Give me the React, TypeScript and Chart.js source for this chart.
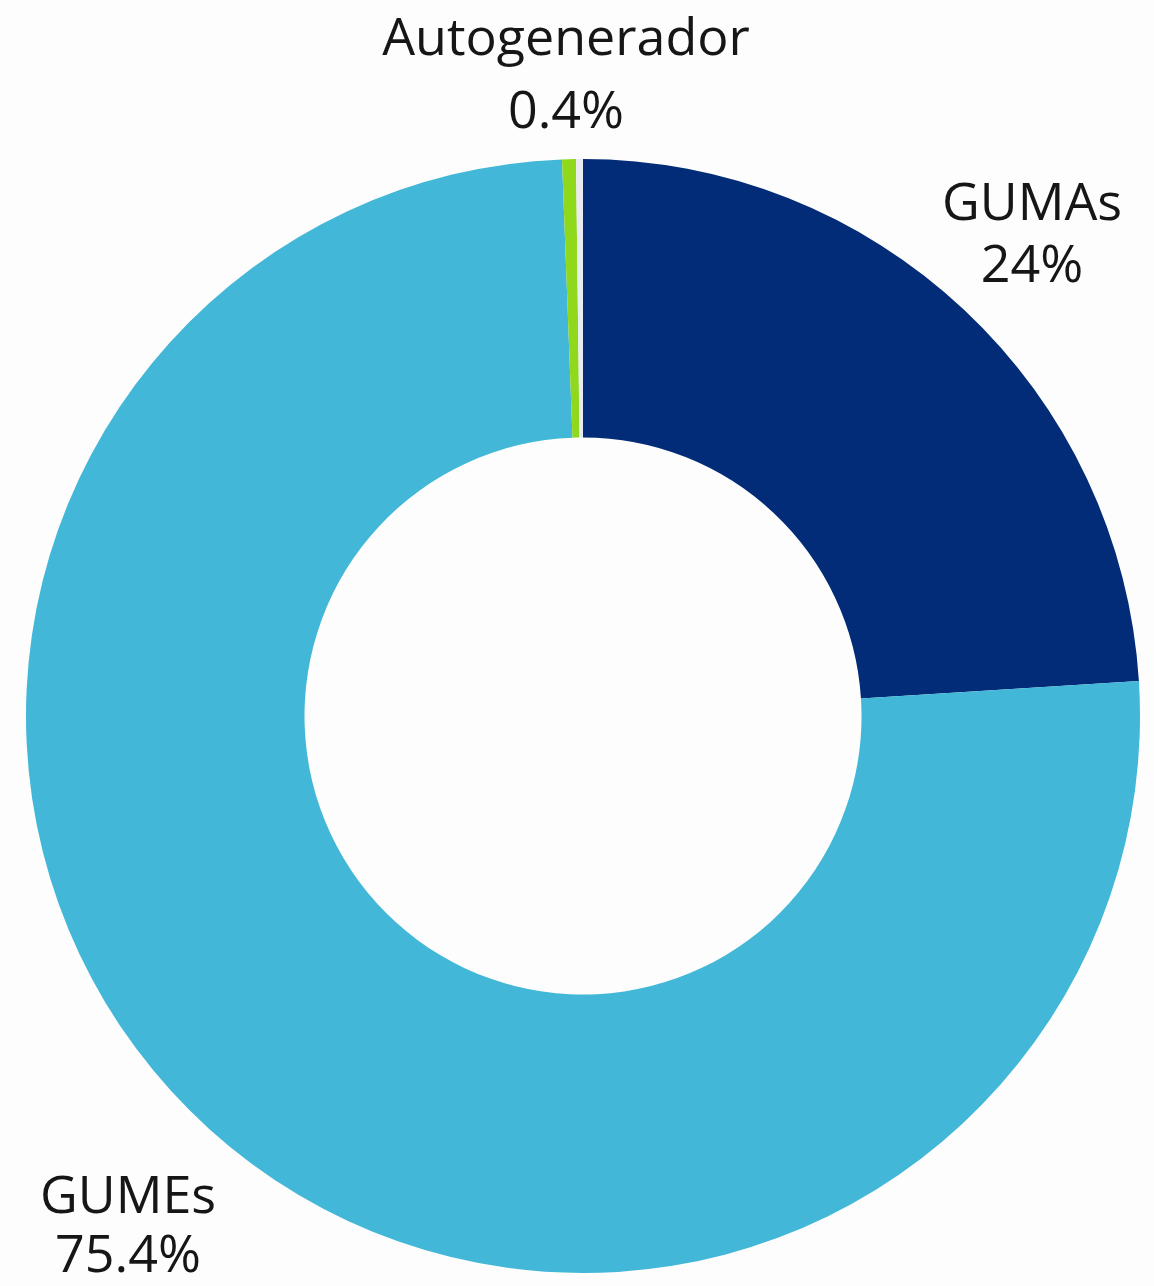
import React, { useEffect, useRef } from "react";
import { Chart, registerables } from "chart.js";

Chart.register(...registerables);

const categories = ["GUMAs", "GUMEs", "Autogenerador", "Otros"];
const values = [24, 75.4, 0.4, 0.2];
const valueLabels = ["24%", "75.4%", "0.4%", ""];
const colors = ["#022b78", "#42b7d7", "#8fd81c", "#e9eaf2"];

// label anchor offsets from chart centre (px): [dx, first-line baseline dy, line gap]
const labelOffsets: Record<string, [number, number, number]> = {
  GUMAs: [449, -496, 62],
  GUMEs: [-455, 497, 59],
  Autogenerador: [-17, -661, 73],
};

const labelPlugin = {
  id: "customLabels",
  afterDraw(chart: any) {
    const ctx = chart.ctx;
    const meta = chart.getDatasetMeta(0);
    const arc = meta.data[0];
    if (!arc) return;
    const cx = arc.x;
    const cy = arc.y;
    ctx.save();
    ctx.fillStyle = "#161616";
    ctx.textAlign = "center";
    ctx.textBaseline = "alphabetic";
    ctx.font = "52px 'Open Sans', 'Noto Sans', sans-serif";
    categories.forEach((c, i) => {
      const off = labelOffsets[c];
      if (!off) return;
      ctx.fillText(c, cx + off[0], cy + off[1]);
      ctx.fillText(valueLabels[i], cx + off[0], cy + off[1] + off[2]);
    });
    ctx.restore();
  },
};

export default function App() {
  const ref = useRef<HTMLCanvasElement>(null);
  useEffect(() => {
    if (!ref.current) return;
    const chart = new Chart(ref.current, {
      type: "doughnut",
      data: {
        labels: categories,
        datasets: [
          {
            data: values,
            backgroundColor: colors,
            borderWidth: 0,
          },
        ],
      },
      options: {
        animation: false,
        responsive: false,
        cutout: "50%",
        layout: { padding: { top: 159, bottom: 13, left: 26, right: 14 } },
        plugins: { legend: { display: false }, tooltip: { enabled: false } },
      },
      plugins: [labelPlugin],
    });
    return () => chart.destroy();
  }, []);
  return (
    <div style={{ position: "fixed", left: 0, top: 0, width: 1154, height: 1286, background: "#fdfdfd" }}>
      <canvas ref={ref} width={1154} height={1286} style={{ display: "block" }} />
    </div>
  );
}
